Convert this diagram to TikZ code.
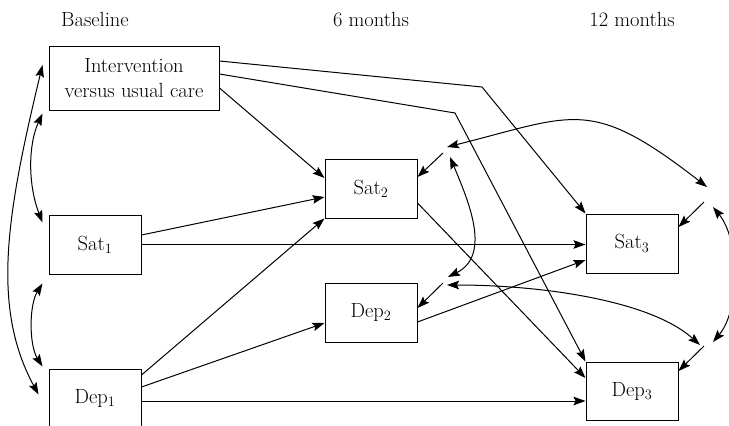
\documentclass[tikz,border=0pt]{standalone}
\usepackage{fontspec}
\usetikzlibrary{arrows.meta,calc}
\begin{document}
\begin{tikzpicture}[x=1pt,y=-1pt,
  box/.style={draw,line width=1pt,minimum width=92pt,minimum height=59pt,inner sep=0pt,font=\fontsize{20.5}{25}\selectfont},
  lab/.style={anchor=base,font=\fontsize{20.5}{25}\selectfont,inner sep=0pt},
  conn/.style={line width=1pt,-{Stealth[length=12pt,width=8.5pt,inset=2pt]}},
  both/.style={line width=1pt,{Stealth[length=12pt,width=8.5pt,inset=2pt]}-{Stealth[length=12pt,width=8.5pt,inset=2pt]}}]
\useasboundingbox (0,0) rectangle (729,426);
\node[lab] (tb) at (95,26) {Baseline};
\node[lab] (t6) at (371,26) {6 months};
\node[lab] (t12) at (632,26) {12 months};
\node[box,minimum width=170pt,minimum height=64pt,align=center] (int) at (134,78) {Intervention\\versus usual care};
\node[box] (sat1) at (95,244.5) {Sat\textsubscript{1}};
\node[box,minimum height=58pt] (dep1) at (95,398) {Dep\textsubscript{1}};
\node[box] (sat2) at (371,188.5) {Sat\textsubscript{2}};
\node[box] (dep2) at (371,312.5) {Dep\textsubscript{2}};
\node[box] (sat3) at (632,243.5) {Sat\textsubscript{3}};
\node[box,minimum height=58pt] (dep3) at (632,391) {Dep\textsubscript{3}};
% residual points
\coordinate (e2) at (443,153);
\coordinate (d2e) at (443,283);
\coordinate (e3) at (704,202);
\coordinate (d3e) at (704,346);
\coordinate (k1) at (482,87);
\coordinate (k2) at (455,113);
% residual arrows
\draw[conn] (e2) -- ([yshift=11.5pt]sat2.east);
\draw[conn] (d2e) -- ([yshift=4.5pt]dep2.east);
\draw[conn] (e3) -- ([yshift=16.5pt]sat3.east);
\draw[conn] (d3e) -- ([yshift=20pt]dep3.east);
% residual covariances
\draw[both] ($(e2)+(4,-6)$) .. controls (575,115) and (590,96) .. ($(e3)+(3,-15)$);
\draw[both] ($(e2)+(7,4)$) .. controls (468,200) and (492,255) .. ($(d2e)+(5,-6)$);
\draw[both] ($(d2e)+(4,2)$) .. controls (540,285) and (650,300) .. ($(d3e)+(-4,-1)$);
\draw[both] ($(e3)+(9,5)$) .. controls (740,240) and (740,310) .. ($(d3e)+(9,-4)$);
% baseline covariances
\draw[both] ($(int.south west)+(-6,3)$) .. controls (28,145) and (28,185) .. ($(sat1.north west)+(-6,8)$);
\draw[both] ($(sat1.south west)+(-6,9)$) .. controls (29,305) and (29,345) .. ($(dep1.north west)+(-6,-2)$);
\draw[both] ($(int.west)+(-6,-13)$) .. controls (6.6,214.5) and (-9,307) .. ($(dep1.north west)+(-10,26)$);
% paths
\draw[conn] ([yshift=-10pt]int.east) -- ([yshift=10.5pt]sat2.west);
\draw[conn] ([yshift=17pt]int.east) -- (k1) -- (sat3.north west);
\draw[conn] ([yshift=4pt]int.east) -- (k2) -- (dep3.north west);
\draw[conn] ([yshift=9.5pt]sat1.east) -- ([yshift=-8.5pt]sat2.west);
\draw[conn] (sat1.east) -- (sat1.east -| sat3.west);
\draw[conn] ([yshift=23pt]dep1.east) -- (sat2.south west);
\draw[conn] ([yshift=11pt]dep1.east) -- ([yshift=-10.5pt]dep2.west);
\draw[conn] ([yshift=-3pt]dep1.east) -- ([yshift=-3pt]dep1.east -| dep3.west);
\draw[conn] ([yshift=-14.5pt]sat2.east) -- ([yshift=13pt]dep3.west);
\draw[conn] ([yshift=-9.5pt]dep2.east) -- ([yshift=-16.5pt]sat3.west);
\end{tikzpicture}
\end{document}
